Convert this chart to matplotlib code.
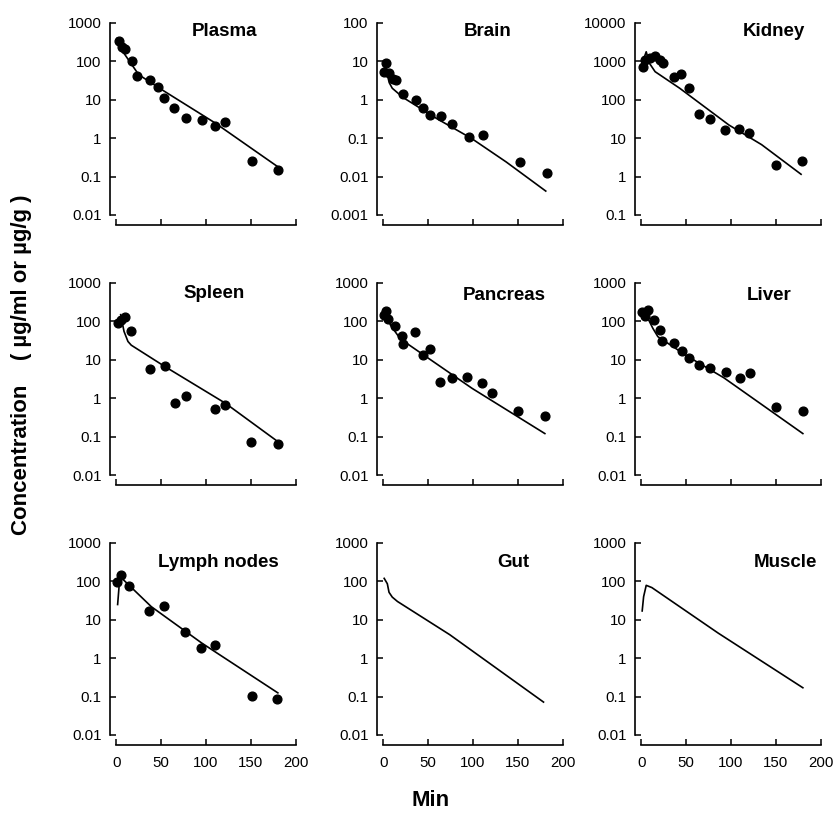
import numpy as np
import matplotlib
matplotlib.use('Agg')
import matplotlib.pyplot as plt
from matplotlib.ticker import FixedLocator, FuncFormatter

plt.rcParams['font.family'] = ['Liberation Sans', 'DejaVu Sans']

plasma_t = [2.5, 6, 10, 17, 23.5, 38, 46, 53, 64, 78, 95, 110, 121, 151, 180]
plasma_c = [330, 240, 210, 100, 42, 32, 22, 11, 6, 3.3, 3, 2.1, 2.7, 0.26, 0.15]
plasma_fit_t = [1, 8, 19, 25, 53, 110, 180]
plasma_fit_c = [400, 170, 72, 45, 17, 2.5, 0.18]

brain_t = [3.5, 1, 6.5, 11, 14, 22, 36, 44, 52.5, 64, 77, 95, 111, 152, 182]
brain_c = [9.3, 5.3, 5.1, 3.4, 3.2, 1.4, 1.0, 0.63, 0.40, 0.37, 0.23, 0.11, 0.12, 0.024, 0.0126]
brain_fit_t = [2, 6.6, 10, 22, 60, 98.5, 137, 181]
brain_fit_c = [8, 2.8, 2.0, 1.15, 0.32, 0.098, 0.024, 0.0042]

kidney_t = [1.8, 4.4, 10, 15, 21, 24, 36.6, 44.7, 53, 64, 76.5, 93, 108.7, 119.6, 149.6, 179]
kidney_c = [730, 1070, 1260, 1370, 1120, 910, 400, 470, 200, 42, 32, 16, 17, 14, 2.0, 2.5]
kidney_fit_t = [1, 5.5, 9, 15.4, 42.8, 97.7, 134, 178]
kidney_fit_c = [900, 1780, 900, 540, 200, 22, 6.8, 1.15]

spleen_t = [1.9, 5.6, 9.3, 16, 38, 54, 65, 77.3, 110, 121.5, 150.5, 180]
spleen_c = [93, 110, 130, 57, 5.8, 6.7, 0.74, 1.15, 0.51, 0.68, 0.074, 0.065]
spleen_fit_t = [4.9, 8.6, 13, 16.7, 54, 121.5, 180]
spleen_fit_c = [150, 55, 30, 24, 6.7, 0.74, 0.074]

pancreas_t = [1, 3, 5.7, 13.4, 21, 21.7, 35.4, 44.6, 52, 63, 76, 93.4, 110, 121, 150.5, 180]
pancreas_c = [145, 185, 118, 74, 41, 26, 54, 13, 19, 2.6, 3.4, 3.6, 2.5, 1.4, 0.46, 0.35]
pancreas_fit_t = [1, 3, 8, 19, 99, 180]
pancreas_fit_c = [120, 170, 80, 35, 1.8, 0.12]

liver_t = [1.1, 4.4, 8, 14.7, 21.4, 22.8, 36, 45, 52.7, 64.5, 76.6, 94, 109.7, 120.8, 150, 180]
liver_c = [178, 138, 196, 109, 58, 30, 28, 17, 11.3, 7.5, 6.1, 4.7, 3.4, 4.5, 0.60, 0.47]
liver_fit_t = [6.6, 12.9, 18.5, 51.6, 92, 180]
liver_fit_c = [130, 66, 40, 12.3, 3.4, 0.12]

lymph_t = [1, 4.8, 14.5, 36.8, 53.5, 76.5, 94, 110, 150.8, 179.5]
lymph_c = [95, 148, 74, 17, 23, 4.9, 1.8, 2.2, 0.105, 0.086]
lymph_fit_t = [1.5, 4, 39, 95, 180]
lymph_fit_c = [25, 135, 22, 2.5, 0.125]

gut_fit_t = [1, 4.5, 6.4, 10, 15.8, 74, 178.5]
gut_fit_c = [120, 87, 52, 39, 30, 4.1, 0.072]

muscle_fit_t = [1, 2.6, 5.5, 11.8, 85.7, 180]
muscle_fit_c = [17, 40, 79, 69, 4.5, 0.17]

titles = ['Plasma', 'Brain', 'Kidney', 'Spleen', 'Pancreas', 'Liver',
          'Lymph nodes', 'Gut', 'Muscle']
points = [(plasma_t, plasma_c), (brain_t, brain_c), (kidney_t, kidney_c),
          (spleen_t, spleen_c), (pancreas_t, pancreas_c), (liver_t, liver_c),
          (lymph_t, lymph_c), None, None]
fits = [(plasma_fit_t, plasma_fit_c), (brain_fit_t, brain_fit_c),
        (kidney_fit_t, kidney_fit_c), (spleen_fit_t, spleen_fit_c),
        (pancreas_fit_t, pancreas_fit_c), (liver_fit_t, liver_fit_c),
        (lymph_fit_t, lymph_fit_c), (gut_fit_t, gut_fit_c),
        (muscle_fit_t, muscle_fit_c)]
y_ranges = [(0.01, 1000), (0.001, 100), (0.1, 10000),
            (0.01, 1000), (0.01, 1000), (0.01, 1000),
            (0.01, 1000), (0.01, 1000), (0.01, 1000)]
x_ticks = [0, 50, 100, 150, 200]

# layout (figure pixels)
W, H = 834, 825
col_left = [110, 377, 635]
row_bottom = [215, 475, 735]
ax_w, ax_h = 188.5, 192
title_x = [0.61, 0.586, 0.737, 0.552, 0.673, 0.714, 0.573, 0.721, 0.799]
title_y = [0.955, 0.955, 0.955, 0.945, 0.937, 0.937, 0.90, 0.896, 0.896]

fig = plt.figure(figsize=(W / 100, H / 100), dpi=100)

for i in range(9):
    r, c = divmod(i, 3)
    ax = fig.add_axes([col_left[c] / W, 1 - row_bottom[r] / H, ax_w / W, ax_h / H])
    ax.set_yscale('log')
    lo, hi = y_ranges[i]
    ax.set_ylim(lo, hi)
    ax.set_xlim(-7, 203)

    ft, fc = fits[i]
    ax.plot(ft, fc, color='black', lw=1.2)
    if points[i] is not None:
        pt, pc = points[i]
        ax.plot(pt, pc, 'o', color='black', ms=6.3, mec='black')

    for s in ['top', 'right']:
        ax.spines[s].set_visible(False)
    ax.spines['left'].set_linewidth(1.2)
    ax.spines['bottom'].set_linewidth(1.2)
    ax.spines['bottom'].set_position(('outward', 7))
    ax.spines['bottom'].set_bounds(0, 200)

    decades = 10.0 ** np.arange(np.log10(lo), np.log10(hi) + 0.5)
    ax.yaxis.set_major_locator(FixedLocator(decades))
    ax.yaxis.set_minor_locator(FixedLocator([]))
    ax.yaxis.set_major_formatter(FuncFormatter(lambda v, p: '%g' % v))
    ax.set_xticks(x_ticks)
    ax.tick_params(axis='both', direction='in', length=4, width=1.1,
                   labelsize=10.8, pad=6)
    if r < 2:
        ax.set_xticklabels([])
    else:
        ax.tick_params(axis='x', pad=8)

    ax.text(title_x[i], title_y[i], titles[i], transform=ax.transAxes,
            ha='center', va='center', fontsize=13.5, fontweight='bold')

fig.text(22 / W, 1 - 365 / H, 'Concentration    ( µg/ml or µg/g )',
         rotation=90, ha='center', va='center', fontsize=16, fontweight='bold')
fig.text(431 / W, 1 - 800 / H, 'Min', ha='center', va='center',
         fontsize=16, fontweight='bold')

fig.savefig('out.png', dpi=100)
